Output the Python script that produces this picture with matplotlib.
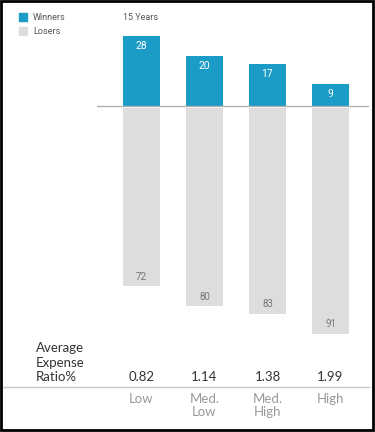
import matplotlib
matplotlib.use("Agg")
import matplotlib.pyplot as plt
from matplotlib.patches import Rectangle
import matplotlib.transforms as mtransforms

# data
categories = ["Low", "Med.\nLow", "Med.\nHigh", "High"]
winners = [28, 20, 17, 9]
losers = [72, 80, 83, 91]
expense_ratio = ["0.82", "1.14", "1.38", "1.99"]

blue = "#1a9cc6"
grey = "#dddddd"
narrow = ["Liberation Sans Narrow", "Roboto", "DejaVu Sans"]
body = ["Lato", "DejaVu Sans"]

W, H = 375, 432
fig = plt.figure(figsize=(W / 100, H / 100), dpi=100)

def fx(px):
    return px / W

def fy(py):
    return 1 - py / H

# bar axes: x in category index, y in percent; baseline at pixel 106, 2.5 px per unit
ax_top, ax_bot = 30, 340
ax = fig.add_axes([fx(97), fy(ax_bot), fx(369) - fx(97), (ax_bot - ax_top) / H])
ax.set_xlim(-0.706, 3.611)
ax.set_ylim(-(ax_bot - 106) / 2.5, (106 - ax_top) / 2.5)
ax.axis("off")

x = list(range(len(categories)))
bw = 37 / 63
ax.bar(x, winners, width=bw, color=blue, zorder=2)
ax.bar(x, [-(v - 0.6) for v in losers], bottom=-0.6, width=bw, color=grey, zorder=2)
ax.axhline(0, color="#b0b0b0", lw=1, zorder=3)

for i, (w, l) in enumerate(zip(winners, losers)):
    ax.annotate(str(w), (i, w), xytext=(0, -7.5), textcoords="offset points",
                ha="center", va="center", color="white", fontsize=7.5, family=narrow)
    ax.annotate(str(l), (i, -l), xytext=(0, 6.5), textcoords="offset points",
                ha="center", va="center", color="#777777", fontsize=7, family=narrow)

# legend and title
fig.patches.append(Rectangle((fx(19), fy(21)), fx(8), 8 / H, transform=fig.transFigure,
                             color=blue, figure=fig))
fig.patches.append(Rectangle((fx(19), fy(35)), fx(8), 8 / H, transform=fig.transFigure,
                             color=grey, figure=fig))
fig.text(fx(33), fy(18), "Winners", fontsize=6.5, color="#555555", va="center", family=narrow)
fig.text(fx(33), fy(32), "Losers", fontsize=6.5, color="#555555", va="center", family=narrow)
fig.text(fx(123), fy(18), "15 Years", fontsize=6.5, color="#555555", va="center", family=narrow)

# bottom table
fig.text(fx(36), fy(348), "Average", fontsize=9.5, color="#333333", va="center", family=body)
fig.text(fx(36), fy(363), "Expense", fontsize=9.5, color="#333333", va="center", family=body)
fig.text(fx(36), fy(377), "Ratio%", fontsize=9.5, color="#333333", va="center", family=body)

trans = mtransforms.blended_transform_factory(ax.transData, fig.transFigure)
for i, (r, c) in enumerate(zip(expense_ratio, categories)):
    ax.text(i, fy(377), r, transform=trans, ha="center", va="center",
            fontsize=9.5, color="#333333", family=body)
    ax.text(i, fy(393), c, transform=trans, ha="center", va="top",
            fontsize=9.5, color="#999999", family=body, linespacing=1.05)

fig.add_artist(plt.Line2D([fx(3), fx(369)], [fy(387), fy(387)], color="#c8c8c8", lw=1))

# frame around image
fig.patches.append(Rectangle((0.002, 0.004), 0.993, 0.994, transform=fig.transFigure,
                             fill=False, edgecolor="black", lw=2, figure=fig))

fig.savefig("out.png", dpi=100)
